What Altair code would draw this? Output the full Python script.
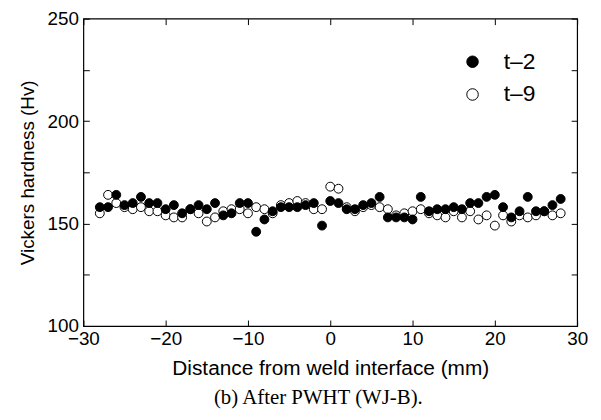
import altair as alt
import pandas as pd

distance = list(range(-28, 29))
t2 = [158, 158, 164, 159, 160, 163, 160, 160, 157, 159, 155, 157, 159, 157, 160, 154,
      155, 160, 160, 146, 152, 156, 158, 158, 158, 159, 160, 149, 161, 160, 157, 157,
      159, 160, 163, 153, 153, 153, 152, 163, 156, 157, 157, 158, 157, 160, 160, 163,
      164, 158, 153, 156, 163, 156, 156, 159, 162]
t9 = [155, 164, 160, 158, 157, 158, 156, 156, 154, 153, 153, 157, 155, 151, 153, 156,
      157, 157, 155, 158, 157, 155, 159, 160, 161, 160, 157, 157, 168, 167, 158, 156,
      158, 159, 158, 157, 154, 155, 156, 157, 155, 154, 153, 156, 153, 156, 152, 154,
      149, 154, 151, 154, 153, 154, 156, 154, 155]
series_names = ["t\u20132", "t\u20139"]
x_ticks = [-30, -20, -10, 0, 10, 20, 30]
y_labels = [100, 150, 200, 250]
y_ticks = [100, 125, 150, 175, 200, 225, 250]

rows = []
for d, v in zip(distance, t9):
    rows.append({"d": d, "hv": v, "s": series_names[1]})
for d, v in zip(distance, t2):
    rows.append({"d": d, "hv": v, "s": series_names[0]})
df = pd.DataFrame(rows)

W, H = 498, 310
FONT = "Liberation Sans"
xs = alt.Scale(domain=[-30, 30], nice=False, zero=False)
ys = alt.Scale(domain=[100, 250], nice=False, zero=False)

base = alt.Chart(df)

pts = base.mark_point(filled=True, size=80, stroke="black", strokeWidth=1, opacity=1).encode(
    x=alt.X("d:Q", scale=xs, axis=alt.Axis(values=x_ticks, ticks=False, domain=False, grid=False,
            title="Distance from weld interface (mm)", labelFont=FONT, labelFontSize=19,
            labelColor="black", titleFont=FONT, titleFontSize=21, titleFontWeight="normal",
            titleColor="black", labelPadding=4, titlePadding=9, labelFlush=False)),
    y=alt.Y("hv:Q", scale=ys, axis=alt.Axis(values=y_labels, ticks=False, domain=False, grid=False,
            title="Vickers hardness (Hv)", labelFont=FONT, labelFontSize=19, labelColor="black",
            titleFont=FONT, titleFontSize=19, titleFontWeight="normal", titleColor="black",
            labelPadding=5, titlePadding=10, labelFlush=False)),
    fill=alt.Fill("s:N", scale=alt.Scale(domain=series_names, range=["black", "white"]),
                  legend=alt.Legend(title=None, orient="none", legendX=381, legendY=32,
                                    symbolSize=135, symbolStrokeColor="black", symbolStrokeWidth=1,
                                    symbolType="circle", labelFont=FONT, labelFontSize=23,
                                    labelColor="black", labelOffset=20, rowPadding=9, padding=0)),
    order=alt.Order("s:N", sort="descending"),
)

tick_style = dict(labels=False, domain=False, grid=False, title=None, tickColor="black",
                  tickSize=6, tickWidth=1)

inner1 = base.mark_point(opacity=0).encode(
    x=alt.X("d:Q", scale=xs, axis=alt.Axis(values=x_ticks, orient="top", offset=-H, **tick_style)),
    y=alt.Y("hv:Q", scale=ys, axis=alt.Axis(values=y_ticks, orient="right", offset=-W, **tick_style)),
)
inner2 = base.mark_point(opacity=0).encode(
    x=alt.X("d:Q", scale=xs, axis=alt.Axis(values=x_ticks, orient="bottom", offset=-H, **tick_style)),
    y=alt.Y("hv:Q", scale=ys, axis=alt.Axis(values=y_ticks, orient="left", offset=-W, **tick_style)),
)

chart = alt.layer(inner1, inner2, pts).resolve_axis(x="independent", y="independent").properties(
    width=W, height=H,
    autosize=alt.AutoSizeParams(type="none"),
    padding={"left": 76, "top": 9, "right": 16, "bottom": 85},
    title=alt.Title("(b) After PWHT (WJ-B).", orient="bottom", font="Liberation Serif",
                    fontSize=21, fontWeight="normal", color="black", offset=9, dx=-12),
).configure_view(stroke="black", strokeWidth=1.2)

chart.save("out.html", embed_options={"renderer": "svg", "actions": False})
